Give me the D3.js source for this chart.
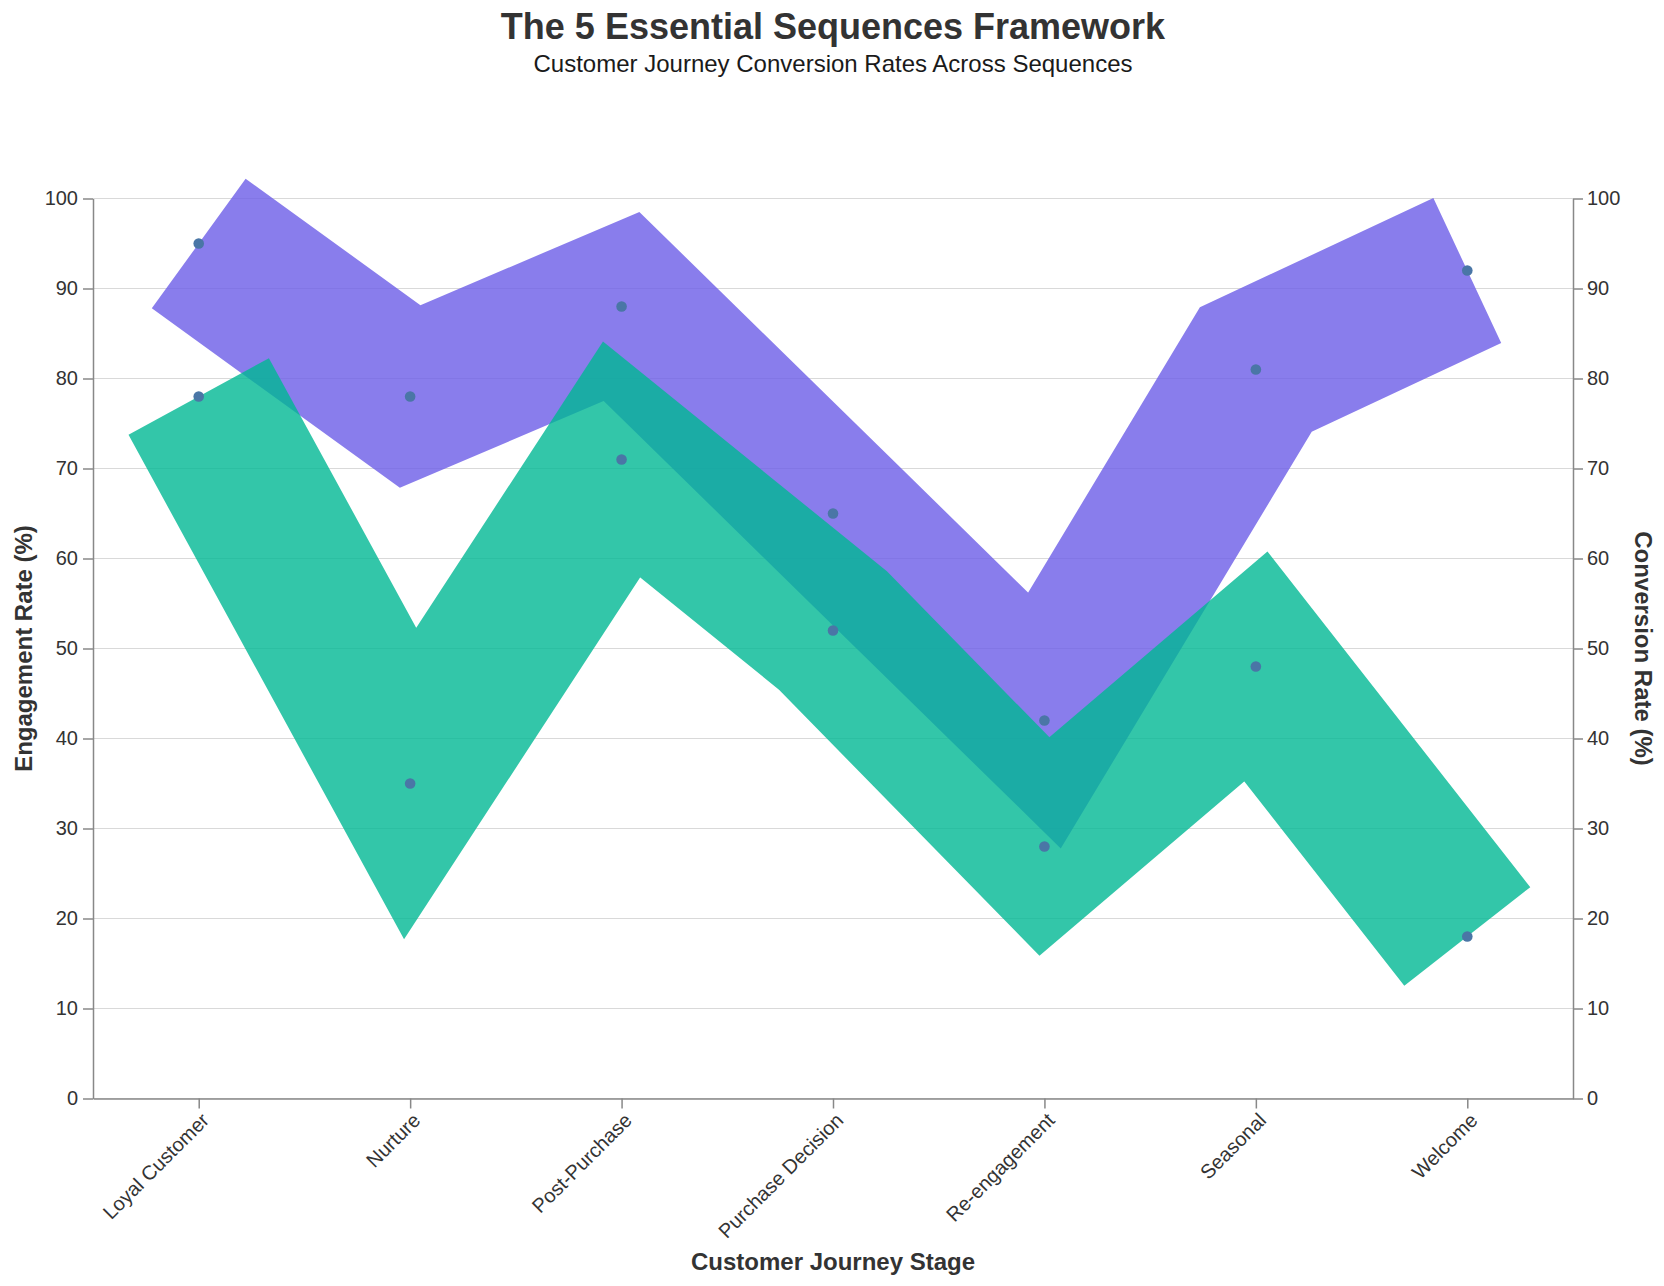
<!DOCTYPE html>
<html>
<head>
<meta charset="utf-8">
<script src="https://cdn.jsdelivr.net/npm/d3@7"></script>
<style>
  body { margin: 0; background: #fff; }
  text { font-family: "Liberation Sans", Arial, Helvetica, sans-serif; }
</style>
</head>
<body>
<div id="chart"></div>
<script>
// data
var stages = ["Loyal Customer", "Nurture", "Post-Purchase", "Purchase Decision", "Re-engagement", "Seasonal", "Welcome"];
var engagement = [95, 78, 88, 65, 42, 81, 92];
var conversion = [78, 35, 71, 52, 28, 48, 18];
var yTicks = [0, 10, 20, 30, 40, 50, 60, 70, 80, 90, 100];

// canvas and plot area
var W = 1664, H = 1286;
var margin = { top: 198.5, right: 91, bottom: 187.5, left: 93 },
    width = W - margin.left - margin.right,
    height = H - margin.top - margin.bottom;

var svg = d3.select("#chart")
    .append("svg")
    .attr("width", W)
    .attr("height", H);

var g = svg.append("g")
    .attr("transform", "translate(" + margin.left + "," + margin.top + ")");

// scales
var x = d3.scalePoint().domain(stages).range([0, width]).padding(0.5);
var y = d3.scaleLinear().domain([0, 100]).range([height, 0]);

// gridlines
g.selectAll(".grid")
    .data(yTicks)
    .enter()
    .append("line")
    .attr("x1", 0)
    .attr("x2", width)
    .attr("y1", d => y(d))
    .attr("y2", d => y(d))
    .attr("stroke", "#d9d9d9")
    .attr("stroke-width", 1);

// wide ribbons through the points
var line = d3.line()
    .x((d, i) => x(stages[i]))
    .y(d => y(d));

g.append("path")
    .datum(engagement)
    .attr("d", line)
    .attr("fill", "none")
    .attr("stroke", "#6c5ce7")
    .attr("stroke-opacity", 0.8)
    .attr("stroke-width", 160)
    .attr("stroke-linejoin", "miter")
    .attr("stroke-linecap", "butt");

g.append("path")
    .datum(conversion)
    .attr("d", line)
    .attr("fill", "none")
    .attr("stroke", "#00b894")
    .attr("stroke-opacity", 0.8)
    .attr("stroke-width", 160)
    .attr("stroke-linejoin", "miter")
    .attr("stroke-linecap", "butt");

// points
[engagement, conversion].forEach(function(series) {
    g.selectAll(null)
        .data(series)
        .enter()
        .append("circle")
        .attr("cx", (d, i) => x(stages[i]))
        .attr("cy", d => y(d))
        .attr("r", 5.3)
        .attr("fill", "#4a76a6");
});

// axes
function styleAxis(sel) {
    sel.select(".domain").attr("stroke", "#888888").attr("stroke-width", 1.5);
    sel.selectAll(".tick line").attr("stroke", "#888888").attr("stroke-width", 1.5);
    sel.selectAll(".tick text").attr("fill", "#333333").style("font-size", "20px");
}

var leftAxis = g.append("g")
    .call(d3.axisLeft(y).tickValues(yTicks).tickSize(10).tickPadding(5).tickSizeOuter(0))
    .call(styleAxis);

var rightAxis = g.append("g")
    .attr("transform", "translate(" + width + ",0)")
    .call(d3.axisRight(y).tickValues(yTicks).tickSize(10).tickPadding(4).tickSizeOuter(0))
    .call(styleAxis);

var bottomAxis = g.append("g")
    .attr("transform", "translate(0," + height + ")")
    .call(d3.axisBottom(x).tickSize(10).tickSizeOuter(0))
    .call(styleAxis);

bottomAxis.selectAll(".tick text")
    .attr("text-anchor", "end")
    .attr("x", 0)
    .attr("y", 0)
    .attr("dy", "0.71em")
    .attr("transform", "translate(1,13) rotate(-45)");

// axis titles
g.append("text")
    .attr("transform", "translate(" + (32 - margin.left) + "," + (height / 2) + ") rotate(-90)")
    .attr("text-anchor", "middle")
    .attr("fill", "#333333")
    .style("font-size", "24px")
    .style("font-weight", "bold")
    .text("Engagement Rate (%)");

g.append("text")
    .attr("transform", "translate(" + (width + 62) + "," + (height / 2) + ") rotate(90)")
    .attr("text-anchor", "middle")
    .attr("fill", "#333333")
    .style("font-size", "24px")
    .style("font-weight", "bold")
    .text("Conversion Rate (%)");

g.append("text")
    .attr("x", width / 2)
    .attr("y", height + 171)
    .attr("text-anchor", "middle")
    .attr("fill", "#333333")
    .style("font-size", "24px")
    .style("font-weight", "bold")
    .text("Customer Journey Stage");

// chart title and subtitle
svg.append("text")
    .attr("x", margin.left + width / 2)
    .attr("y", 39)
    .attr("text-anchor", "middle")
    .attr("fill", "#333333")
    .style("font-size", "36px")
    .style("font-weight", "bold")
    .text("The 5 Essential Sequences Framework");

svg.append("text")
    .attr("x", margin.left + width / 2)
    .attr("y", 72)
    .attr("text-anchor", "middle")
    .attr("fill", "#1a1a1a")
    .style("font-size", "24px")
    .text("Customer Journey Conversion Rates Across Sequences");
</script>
</body>
</html>
